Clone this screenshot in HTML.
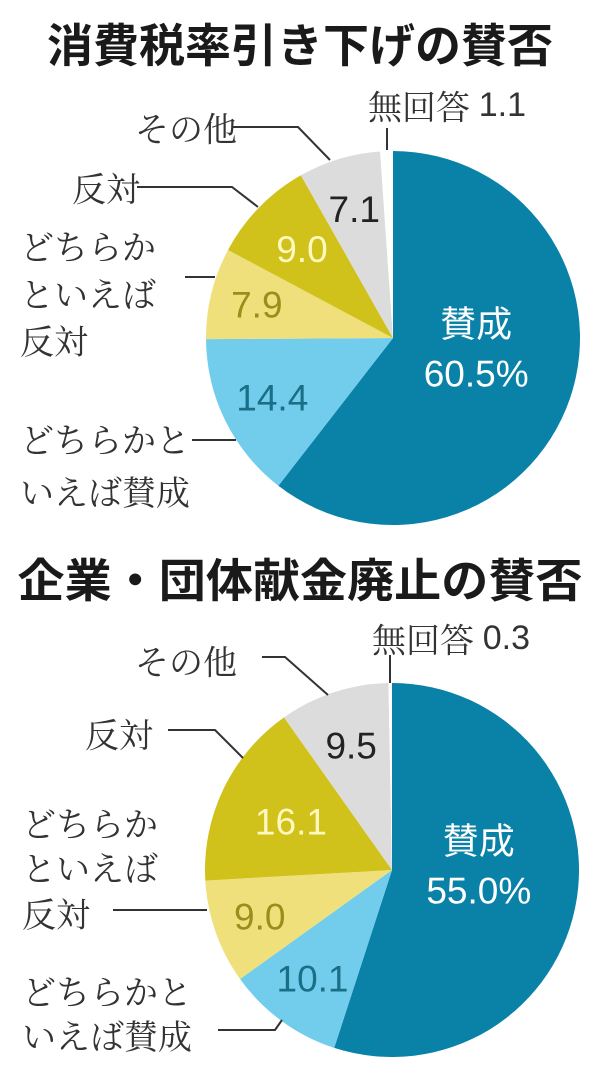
<!DOCTYPE html>
<html><head><meta charset="utf-8"><style>
html,body{margin:0;padding:0;background:#fff;}
svg{display:block;font-family:"Liberation Sans","Noto Sans CJK JP",sans-serif;}
.t{font-family:"Noto Sans CJK JP",sans-serif;font-weight:bold;font-size:46px;fill:#1a1a1a;}
.l{font-family:"Noto Serif CJK SC","Noto Sans CJK JP",serif;font-size:34px;fill:#333;}
.n{font-size:37px;}
.ld{stroke:#333;stroke-width:2;fill:none;}
</style></head><body>
<svg id="c" width="600" height="1075" viewBox="0 0 600 1075">
<text class="t" x="300" y="62" text-anchor="middle">消費税率引き下げの賛否</text>
<text class="t" x="300" y="597" text-anchor="middle" textLength="565" lengthAdjust="spacingAndGlyphs">企業・団体献金廃止の賛否</text>
<g id="p1"></g><g id="p2"></g>
<!-- chart 1 labels -->
<text class="l" x="368" y="105" dominant-baseline="central">無回答 <tspan font-family="Liberation Sans">1.1</tspan></text>
<path class="ld" d="M387 128 V150"/>
<text class="l" x="135" y="127" dominant-baseline="central">その他</text>
<path class="ld" d="M232 127 H298 L330 160"/>
<text class="l" x="72" y="187" dominant-baseline="central">反対</text>
<path class="ld" d="M137 187 H232 L258 207"/>
<text class="l" x="20" y="245" dominant-baseline="central">どちらか<tspan x="20" dy="47">といえば</tspan><tspan x="20" dy="47">反対</tspan></text>
<path class="ld" d="M185 277 H215"/>
<text class="l" x="20" y="438" dominant-baseline="central">どちらかと<tspan x="20" dy="52">いえば賛成</tspan></text>
<path class="ld" d="M192 440 H236"/>
<!-- chart 2 labels -->
<text class="l" x="372" y="638" dominant-baseline="central">無回答 <tspan font-family="Liberation Sans">0.3</tspan></text>
<path class="ld" d="M390 655 V683"/>
<text class="l" x="135" y="660" dominant-baseline="central">その他</text>
<path class="ld" d="M262 657 H285 L328 695"/>
<text class="l" x="85" y="733" dominant-baseline="central">反対</text>
<path class="ld" d="M168 730 H215 L243 758"/>
<text class="l" x="22" y="822" dominant-baseline="central">どちらか<tspan x="22" dy="44">といえば</tspan><tspan x="22" dy="46">反対</tspan></text>
<path class="ld" d="M113 910 H207"/>
<text class="l" x="22" y="990" dominant-baseline="central">どちらかと<tspan x="22" dy="44">いえば賛成</tspan></text>
<path class="ld" d="M218 1030 H275 L282 1020"/>
</svg>
<script>
var categories = ["賛成","どちらかといえば賛成","どちらかといえば反対","反対","その他","無回答"];
var values1 = [60.5, 14.4, 7.9, 9.0, 7.1, 1.1];
var values2 = [55.0, 10.1, 9.0, 16.1, 9.5, 0.3];
var labels1 = ["60.5%","14.4","7.9","9.0","7.1",""];
var labels2 = ["55.0%","10.1","9.0","16.1","9.5",""];
var colors = ["#0a82a8","#72cdec","#f0e07c","#d0c21a","#dcdcdc","#ffffff"];
var textColors = ["#ffffff","#1a6f86","#9a8e1a","#fff8c0","#222222","#222222"];
var NS = "http://www.w3.org/2000/svg";
function ang(cum){ return cum/100*2*Math.PI; }
function pt(cx,cy,r,a){ return [cx + r*Math.sin(a), cy - r*Math.cos(a)]; }
function drawPie(gid, vals, labs, cx, cy, r, lblR, prefix){
  var g = document.getElementById(gid);
  var cum = 0;
  for (var i=0;i<vals.length;i++){
    var a0 = ang(cum), a1 = ang(cum+vals[i]);
    var p0 = pt(cx,cy,r,a0), p1 = pt(cx,cy,r,a1);
    var large = (a1-a0) > Math.PI ? 1 : 0;
    var path = document.createElementNS(NS,"path");
    path.setAttribute("d","M"+cx+" "+cy+" L"+p0[0]+" "+p0[1]+" A"+r+" "+r+" 0 "+large+" 1 "+p1[0]+" "+p1[1]+" Z");
    path.setAttribute("fill", colors[i]);
    
    
    g.appendChild(path);
    var am = (a0+a1)/2;
    if (labs[i]) {
      var rr = i===0 ? 0.47*r : lblR[i]*r;
      var lp = pt(cx,cy,rr,am);
      if (i===0) {
        var t1 = document.createElementNS(NS,"text");
        t1.setAttribute("x", lp[0]); t1.setAttribute("y", lp[1]-30);
        t1.setAttribute("text-anchor","middle");
        t1.setAttribute("font-family","Noto Sans CJK JP, sans-serif");
        t1.setAttribute("font-size","36");
        t1.setAttribute("fill", textColors[i]);
        t1.textContent = categories[0];
        
        
        g.appendChild(t1);
      }
      var t = document.createElementNS(NS,"text");
      t.setAttribute("x", lp[0]); t.setAttribute("y", i===0 ? lp[1]+20 : lp[1]+13);
      t.setAttribute("text-anchor","middle");
      t.setAttribute("class","n");
      t.setAttribute("fill", textColors[i]);
      t.textContent = labs[i];
      
      
      g.appendChild(t);
    }
    cum += vals[i];
  }
}
drawPie("p1", values1, labels1, 393, 338, 187, [0,0.72,0.75,0.68,0.72,0], "chart1");
drawPie("p2", values2, labels2, 392, 870, 187, [0,0.72,0.75,0.6,0.7,0], "chart2");
</script>
</body></html>
